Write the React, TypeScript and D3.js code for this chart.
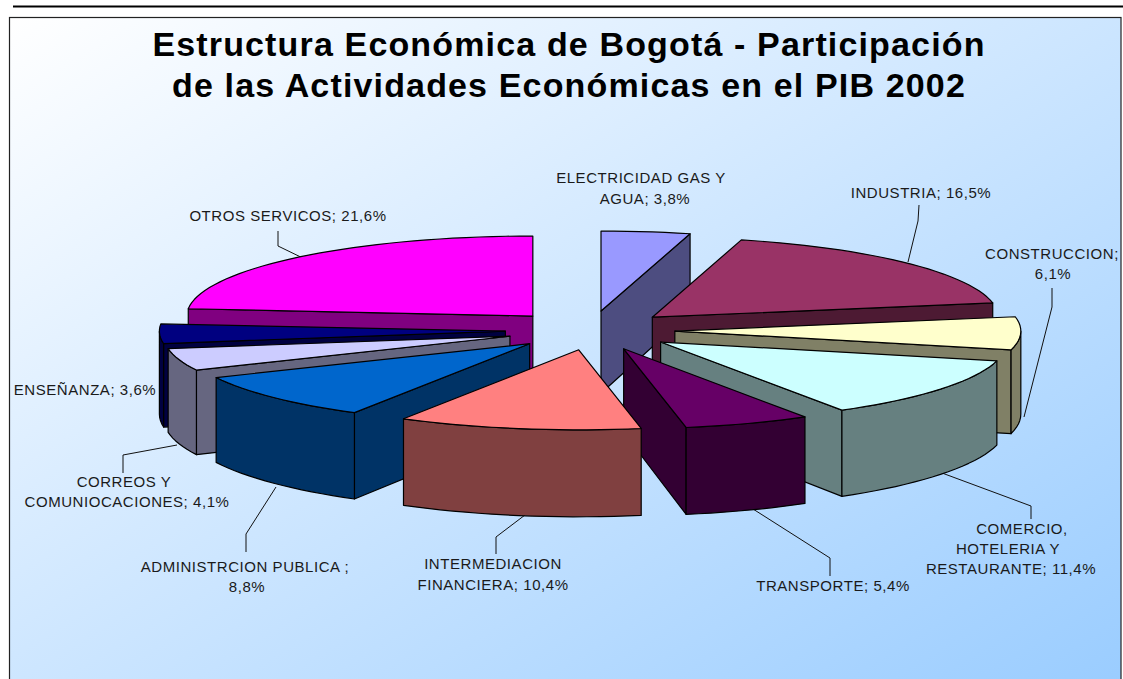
import React from "react";
import * as d3 from "d3";

const categories = ["ELECTRICIDAD GAS Y AGUA","INDUSTRIA","CONSTRUCCION","COMERCIO, HOTELERIA Y RESTAURANTE","TRANSPORTE","INTERMEDIACION FINANCIERA","ADMINISTRCION PUBLICA","CORREOS Y COMUNIOCACIONES","ENSEÑANZA","OTROS SERVICOS"];
const values = [3.8,16.5,6.1,11.4,5.4,10.4,8.8,4.1,3.6,21.6];
const topColors = ["#9999FF","#993366","#FFFFCC","#CCFFFF","#660066","#FF8080","#0066CC","#CCCCFF","#000080","#FF00FF"];
const sideColors = ["#4D4D80","#4D1A33","#808066","#668080","#330033","#804040","#003366","#666680","#000040","#800080"];
const titleLines = ["Estructura Económica de Bogotá - Participación","de las Actividades Económicas en el PIB 2002"];
const labelLines = [
  ["ELECTRICIDAD GAS Y","AGUA; 3,8%"],["INDUSTRIA; 16,5%"],["CONSTRUCCION;","6,1%"],
  ["COMERCIO,","HOTELERIA Y","RESTAURANTE; 11,4%"],["TRANSPORTE; 5,4%"],["INTERMEDIACION","FINANCIERA; 10,4%"],
  ["ADMINISTRCION PUBLICA ;","8,8%"],["CORREOS Y","COMUNIOCACIONES; 4,1%"],["ENSEÑANZA; 3,6%"],["OTROS SERVICOS; 21,6%"],
];

// layout of the label blocks: centre x per line, first baseline, line step
const labelLayout: { xs: number[]; y: number; dy: number }[] = [
  { xs: [641, 645], y: 183, dy: 21 },
  { xs: [921], y: 198, dy: 0 },
  { xs: [1052, 1053], y: 259, dy: 20 },
  { xs: [1022, 1008, 1011], y: 534, dy: 20 },
  { xs: [833], y: 591, dy: 0 },
  { xs: [493, 493], y: 569, dy: 21 },
  { xs: [245, 247], y: 572, dy: 20 },
  { xs: [124, 127], y: 487, dy: 20 },
  { xs: [85], y: 395, dy: 0 },
  { xs: [288], y: 221, dy: 0 },
];
const leaders: [number, number][][] = [
  [],
  [[919, 205], [918, 221], [908, 262]],
  [[1052, 288], [1052, 307], [1024, 417]],
  [[1031, 519], [1031, 506], [942, 473]],
  [[830, 576], [830, 558], [753, 509]],
  [[496, 554], [496, 537], [525, 515]],
  [[246, 552], [246, 534], [276, 487]],
  [[123, 473], [123, 455], [177, 445]],
  [],
  [[278, 231], [278, 246], [311, 262]],
];

const W = 1123, H = 679;
const cx = 590, cy = 330, rx = 346, ry = 80, explode = 0.245, frontShift = 3.5;
const sx = d3.scaleLinear().domain([-1, 1]).range([-rx, rx]);
const sy = d3.scaleLinear().domain([-1, 1]).range([ry, -ry]); // cos -> screen y
const depth = d3.scaleLinear().domain([233, 430]).range([79, 87]);
const line = d3.line<[number, number]>();

const arcs = d3.pie<number>().sort(null).startAngle(0).endAngle(2 * Math.PI)(values);

function sample(a0: number, a1: number) {
  const n = Math.max(2, Math.ceil((a1 - a0) / 0.04));
  return d3.range(n + 1).map((i) => a0 + ((a1 - a0) * i) / n);
}

function slice(i: number) {
  const { startAngle: a0, endAngle: a1 } = arcs[i];
  const mid = (a0 + a1) / 2;
  const ox = cx + explode * sx(Math.sin(mid)) + frontShift * Math.max(0, -Math.cos(mid));
  const oy = cy + explode * sy(Math.cos(mid)) + 0.5;
  const P = (a: number): [number, number] => [ox + sx(Math.sin(a)), oy + sy(Math.cos(a))];
  const D = (p: [number, number]): [number, number] => [p[0], p[1] + depth(p[1])];
  const apex: [number, number] = [ox, oy];
  const faces: string[] = [];
  const wall = (a: number) => {
    const p = P(a);
    faces.push(line([apex, p, D(p), D(apex)]) + "Z");
  };
  if (Math.sin(a0) < -1e-6) wall(a0);
  if (Math.sin(a1) > 1e-6) wall(a1);
  const f0 = Math.max(a0, Math.PI / 2), f1 = Math.min(a1, 1.5 * Math.PI);
  if (f1 > f0) {
    const rim = sample(f0, f1).map(P);
    faces.push(line([...rim, ...rim.slice().reverse().map(D)]) + "Z");
  }
  const top = line([apex, ...sample(a0, a1).map(P)]) + "Z";
  return { faces, top, order: Math.cos(mid) };
}

const order = d3.range(values.length).sort(
  (a, b) => d3.descending(slice(a).order, slice(b).order)
);

export default function App() {
  return (
    <svg width={W} height={H} style={{ position: "fixed", left: 0, top: 0 }} fontFamily="'Liberation Sans', Arial, sans-serif">
      <defs>
        <linearGradient id="bg" x1="0" y1="0" x2="1" y2="1">
          <stop offset="0" stopColor="#FFFFFF" />
          <stop offset="1" stopColor="#99CCFF" />
        </linearGradient>
      </defs>
      <rect x={0} y={0} width={W} height={H} fill="#fff" />
      <line x1={13} x2={W} y1={6.5} y2={6.5} stroke="#000" strokeWidth={2} />
      <rect x={9.5} y={17.5} width={1111.5} height={680} fill="url(#bg)" stroke="#222" strokeWidth={1.2} />
      {titleLines.map((t, i) => (
        <text key={t} x={569} y={56 + i * 41} textAnchor="middle" fontSize={34} fontWeight={700} letterSpacing={1.15} fill="#000">{t}</text>
      ))}
      {leaders.map((l, i) => l.length > 0 && (
        <path key={i} d={line(l) as string} fill="none" stroke="#111" strokeWidth={1} />
      ))}
      {order.map((i) => {
        const s = slice(i);
        return (
          <g key={categories[i]} stroke="#000" strokeWidth={1.2} strokeLinejoin="round">
            {s.faces.map((f, j) => <path key={j} d={f} fill={sideColors[i]} />)}
            <path d={s.top} fill={topColors[i]} />
          </g>
        );
      })}
      {labelLines.map((ls, i) => ls.map((t, j) => (
        <text key={t} x={labelLayout[i].xs[j]} y={labelLayout[i].y + j * labelLayout[i].dy} textAnchor="middle" fontSize={15} letterSpacing={0.55} fill="#1a1a1a">{t}</text>
      )))}
    </svg>
  );
}
